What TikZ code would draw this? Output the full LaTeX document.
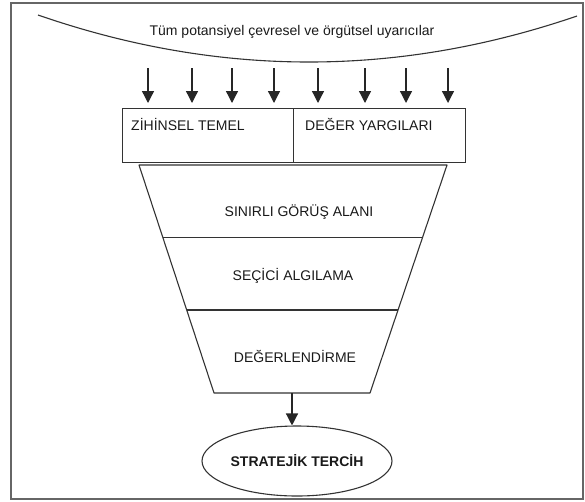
\documentclass[tikz,border=0pt]{standalone}
\usepackage{fontspec}
\setmainfont{Liberation Sans}
\usetikzlibrary{calc,positioning,arrows.meta,shapes.geometric}
\tikzset{
  line/.style={-{Triangle[length=12pt,width=12pt]}, line width=1.3pt, draw=black!85},
  edge/.style={line width=1.1pt, draw=black!80},
  label/.style={font=\fontsize{14}{17}\selectfont, text=black!90, inner sep=0pt},
  halfbox/.style={edge, draw, anchor=north west, minimum height=54pt, inner sep=0pt},
  goal/.style={edge, draw, ellipse, minimum width=190pt, minimum height=70pt, inner sep=0pt,
    font=\fontsize{14}{17}\selectfont\bfseries, text=black!90}
}

\begin{document}
\begin{tikzpicture}[x=1pt, y=-1pt]
  \useasboundingbox (0,0) rectangle (585,501);
  \draw[line width=1.6pt, draw=black!60] (11,3) rectangle (583,499);

  % stimuli
  \draw[edge] (38,15) .. controls (217,77) and (396,78) .. (577,16);
  \node[label, anchor=base] (stimuli) at (292,35) {Tüm potansiyel çevresel ve örgütsel uyarıcılar};
  \foreach \x [count=\i] in {148,192,232,274,318,365,406,448} {
    \coordinate (in\i) at (\x,68);
    \coordinate (out\i) at (\x,103);
    \draw[line] (in\i) -- (out\i);
  }

  % filters
  \node[halfbox, minimum width=171pt] (mind) at (122,108) {};
  \node[halfbox, minimum width=172pt] (value) at (293,108) {};
  \node[label, anchor=base west] (mindtext) at ([xshift=9pt, yshift=-22pt]mind.north west) {ZİHİNSEL TEMEL};
  \node[label, anchor=base west] (valuetext) at ([xshift=12pt, yshift=-22pt]value.north west) {DEĞER YARGILARI};

  % funnel
  \coordinate (ftl) at (139,165);
  \coordinate (ftr) at (447,165);
  \coordinate (fbl) at (214,393);
  \coordinate (fbr) at (370,393);
  \coordinate (fbm) at (292,393);
  \draw[edge, line join=round] (ftl) -- (ftr) -- (fbr) -- (fbl) -- cycle;
  \draw[edge] ($(ftl)!0.316!(fbl)$) -- ($(ftr)!0.316!(fbr)$);
  \draw[edge] ($(ftl)!0.636!(fbl)$) -- ($(ftr)!0.636!(fbr)$);
  \node[label, anchor=base] (view) at (299,216) {SINIRLI GÖRÜŞ ALANI};
  \node[label, anchor=base] (select) at (293,280) {SEÇİCİ ALGILAMA};
  \node[label, anchor=base] (assess) at (295,362) {DEĞERLENDİRME};

  % outcome
  \node[goal] (choice) at (297,461) {STRATEJİK TERCİH};
  \draw[line] (fbm) -- (fbm |- choice.north);
\end{tikzpicture}
\end{document}
